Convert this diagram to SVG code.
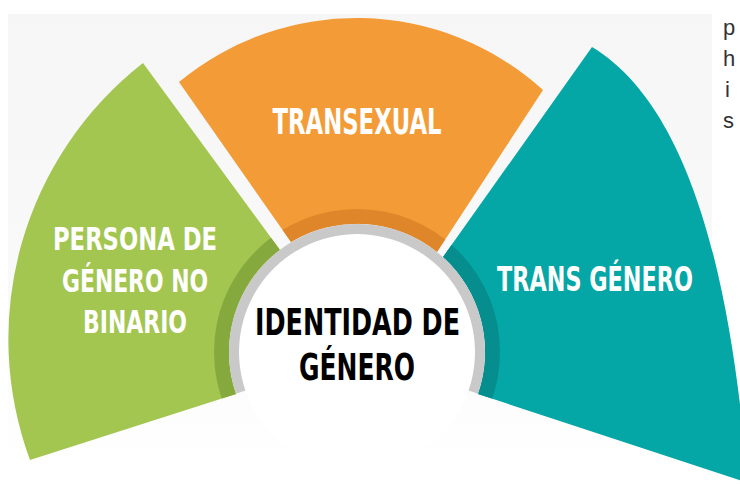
<svg xmlns="http://www.w3.org/2000/svg" width="740" height="484" viewBox="0 0 740 484">
<defs>
<style>
.lbl{font-family:"Liberation Sans Narrow","DejaVu Sans Condensed","Liberation Sans",sans-serif;font-weight:bold;text-anchor:middle}
.w{fill:#ffffff}
.k{fill:#000000}
.band{fill:none;stroke-width:15}
.side{font-family:"Liberation Sans","DejaVu Sans",sans-serif;font-size:22px;fill:#333333}
</style>
<linearGradient id="bg" x1="0" y1="0" x2="0" y2="1">
<stop offset="0" stop-color="#f6f6f6"/>
<stop offset="0.6" stop-color="#f9f9f9"/>
<stop offset="1" stop-color="#ffffff"/>
</linearGradient>
<clipPath id="cg"><path d="M143,63 A350,350 0 0 0 30,460 L236,394 A128,128 0 0 1 280,250 Z"/></clipPath>
<clipPath id="co"><path d="M179,82 A278,278 0 0 1 543,90 L437,252 A128,128 0 0 0 291,242 Z"/></clipPath>
<clipPath id="ct"><path d="M592,47 C705,115 735,330 748,483 L478,394 A128,128 0 0 0 443,257 Z"/></clipPath>
</defs>
<rect x="0" y="0" width="740" height="484" fill="#ffffff"/>
<rect x="8" y="14" width="704" height="458" fill="url(#bg)"/>

<g id="node-green">
<path d="M143,63 A350,350 0 0 0 30,460 L236,394 A128,128 0 0 1 280,250 Z" fill="#a3c650"/>
<circle cx="357" cy="352" r="135.5" class="band" stroke="#86a93d" clip-path="url(#cg)"/>
<text class="lbl w" x="135" y="250" font-size="32" textLength="164" lengthAdjust="spacingAndGlyphs">PERSONA DE</text>
<text class="lbl w" x="135" y="292" font-size="32" textLength="146" lengthAdjust="spacingAndGlyphs">GÉNERO NO</text>
<text class="lbl w" x="135" y="333" font-size="32" textLength="104" lengthAdjust="spacingAndGlyphs">BINARIO</text>
</g>

<g id="node-orange">
<path d="M179,82 A278,278 0 0 1 543,90 L437,252 A128,128 0 0 0 291,242 Z" fill="#f39b36"/>
<circle cx="357" cy="352" r="135.5" class="band" stroke="#df862b" clip-path="url(#co)"/>
<text class="lbl w" x="357" y="134" font-size="36" textLength="169" lengthAdjust="spacingAndGlyphs">TRANSEXUAL</text>
</g>

<g id="node-teal">
<path d="M592,47 C705,115 735,330 748,483 L478,394 A128,128 0 0 0 443,257 Z" fill="#05a6a6"/>
<circle cx="357" cy="352" r="135.5" class="band" stroke="#068d8d" clip-path="url(#ct)"/>
<text class="lbl w" x="595" y="291" font-size="33" textLength="196" lengthAdjust="spacingAndGlyphs">TRANS GÉNERO</text>
</g>

<g id="node-center">
<circle cx="357" cy="352" r="118" fill="#ffffff"/>
<path d="M236,393.7 A128,128 0 1 1 478,393.7 L468.6,390.4 A118,118 0 1 0 245.4,390.4 Z" fill="#c9c9c9"/>
<text class="lbl k" x="357.5" y="335" font-size="38" textLength="205" lengthAdjust="spacingAndGlyphs">IDENTIDAD DE</text>
<text class="lbl k" x="357" y="380" font-size="38" textLength="116" lengthAdjust="spacingAndGlyphs">GÉNERO</text>
</g>

<g id="connectors"></g>

<g id="side-text">
<text class="side" x="723" y="35">p</text>
<text class="side" x="723" y="66">h</text>
<text class="side" x="725" y="97">i</text>
<text class="side" x="723" y="128">s</text>
</g>
</svg>
